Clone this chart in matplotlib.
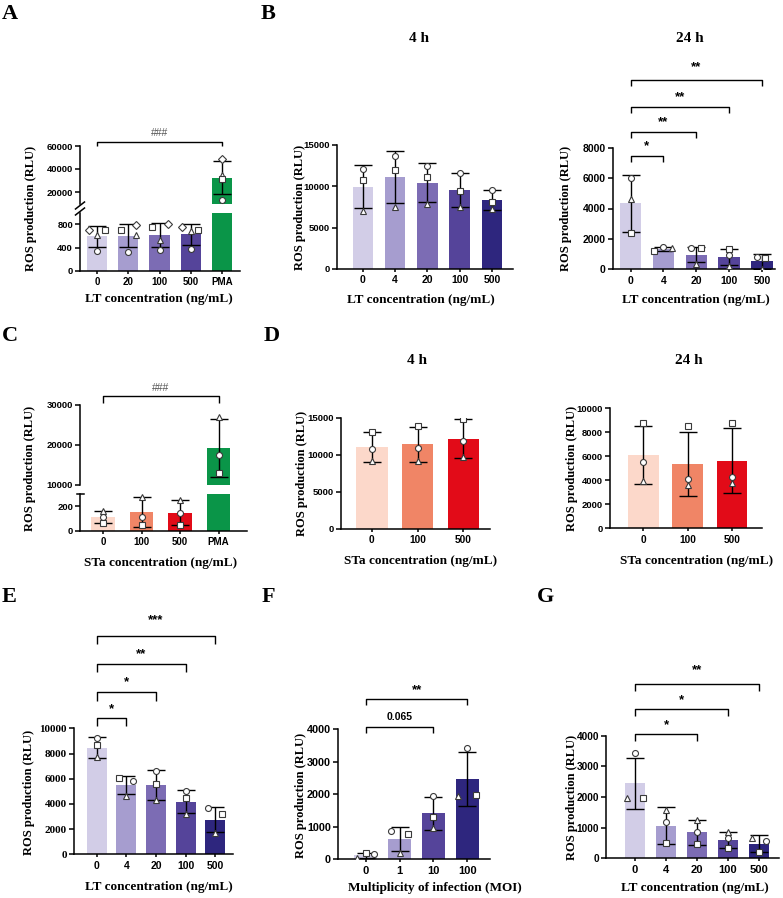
import matplotlib
matplotlib.use('Agg')
import matplotlib.pyplot as plt
from matplotlib.lines import Line2D
import numpy as np

SANS = 'Liberation Sans'
SERIF = 'Liberation Serif'
plt.rcParams['font.family'] = [SANS, 'DejaVu Sans']

W, H = 783, 898
fig = plt.figure(figsize=(W / 100, H / 100), dpi=100)

# ---------------- colours ----------------
PURPLE = ['#D2CDE7', '#A69DCF', '#7C6CB4', '#55449A', '#2E267E']
REDS = ['#FCD8CA', '#F08566', '#E20B18']
GREEN = '#0A9548'

# ---------------- data ----------------
# Panel A (LT, with PMA)
A_cats = ['0', '20', '100', '500', 'PMA']
A_mean = [595, 607, 620, 630, 32500]
A_sd = [175, 192, 210, 180, 14500]
A_circle = [350, 330, 360, 370, 13000]
A_triangle = [620, 620, 540, 680, 35000]
A_square = [710, 700, 760, 710, 31000]
A_diamond = [700, 790, 800, 750, 49000]

# Panel B 4 h
B4_cats = ['0', '4', '20', '100', '500']
B4_mean = [9925, 11045, 10405, 9500, 8300]
B4_sd = [2575, 3145, 2385, 2050, 1200]
B4_circle = [12100, 13650, 12400, 11600, 9550]
B4_square = [10700, 11950, 11100, 9400, 8100]
B4_triangle = [6950, 7500, 7800, 7450, 7200]

# Panel B 24 h
B24_cats = ['0', '4', '20', '100', '500']
B24_mean = [4330, 1320, 955, 810, 530]
B24_sd = [1850, 140, 495, 550, 480]
B24_circle = [6000, 1480, 1380, 950, 780]
B24_triangle = [4600, 1380, 380, 250, 30]
B24_square = [2400, 1220, 1400, 1330, 770]

# Panel C (STa, with PMA)
C_cats = ['0', '100', '500', 'PMA']
C_mean = [111, 150, 147, 19250]
C_sd = [49, 120, 100, 7325]
C_triangle = [160, 270, 248, 27000]
C_circle = [110, 114, 146, 17400]
C_square = [62, 45, 48, 13100]

# Panel D 4 h
D4_cats = ['0', '100', '500']
D4_mean = [11010, 11390, 12195]
D4_sd = [2020, 2400, 2585]
D4_square = [13050, 13850, 14850]
D4_circle = [10800, 10900, 11900]
D4_triangle = [9100, 9100, 9700]

# Panel D 24 h
D24_cats = ['0', '100', '500']
D24_mean = [6110, 5390, 5625]
D24_sd = [2420, 2670, 2710]
D24_square = [8800, 8500, 8750]
D24_circle = [5500, 4080, 4250]
D24_triangle = [3970, 3610, 3800]

# Panel E
E_cats = ['0', '4', '20', '100', '500']
E_mean = [8450, 5490, 5520, 4170, 2740]
E_sd = [820, 730, 1200, 925, 1000]
E_circle = [9200, 5820, 6640, 5050, 3650]
E_square = [8680, 6030, 5600, 4440, 3180]
E_triangle = [7700, 4630, 4310, 3180, 1720]

# Panel F
F_cats = ['0', '1', '10', '100']
F_mean = [120, 615, 1410, 2455]
F_sd = [80, 365, 500, 830]
F_triangle = [30, 200, 950, 1945]
F_square = [200, 790, 1310, 1985]
F_circle = [160, 880, 1955, 3405]

# Panel G
G_cats = ['0', '4', '20', '100', '500']
G_mean = [2450, 1070, 850, 600, 480]
G_sd = [830, 590, 400, 260, 280]
G_triangle = [1960, 1580, 1250, 850, 650]
G_circle = [3420, 1200, 870, 670, 580]
G_square = [1980, 490, 470, 350, 220]


# ---------------- helpers ----------------
def box(l, t, r, b):
    return [l / W, 1 - b / H, (r - l) / W, (b - t) / H]


def fx(x):
    return x / W


def fy(y):
    return 1 - y / H


MEC = '#3a3a3a'


def draw_bars(ax, means, sds, colors, pts, width):
    x = np.arange(len(means))
    ax.bar(x, means, width=width, color=colors, edgecolor='none', zorder=2)
    ax.errorbar(x, means, yerr=sds, fmt='none', ecolor='black', elinewidth=1.0,
                capsize=6.5, capthick=1.0, zorder=3)
    for marker, vals, offs in pts:
        ms = 3.6 if marker == 'D' else 4.3
        ax.plot(x + np.array(offs), vals, marker=marker, ls='none', mfc='white',
                mec=MEC, ms=ms, mew=0.8, zorder=5)


def style(ax, cats, xlim, ylim, yticks, yfs, xfs, yfam=SANS, show_x=True):
    ax.set_facecolor('none')
    for s in ['top', 'right']:
        ax.spines[s].set_visible(False)
    for s in ['left', 'bottom']:
        ax.spines[s].set_linewidth(1.1)
    ax.set_xlim(*xlim)
    ax.set_ylim(*ylim)
    ax.set_yticks(yticks)
    ax.set_yticklabels([str(v) for v in yticks], fontsize=yfs, fontweight='bold', family=yfam)
    ax.tick_params(axis='y', direction='out', length=3.5, width=1.1, pad=1.5)
    if show_x:
        ax.set_xticks(np.arange(len(cats)))
        ax.set_xticklabels(cats, fontsize=xfs, fontweight='bold', family=SANS)
        ax.tick_params(axis='x', direction='out', length=2.5, width=1.1, pad=2)
    else:
        ax.spines['bottom'].set_visible(False)
        ax.set_xticks([])


def bracket(ax, x1, x2, y, yend, ytext, label, fs=9.5, color='black', weight='bold'):
    ax.plot([x1, x1, x2, x2], [yend, y, y, yend], color='black', lw=1.0, clip_on=False,
            solid_capstyle='butt', zorder=6)
    ax.text((x1 + x2) / 2, ytext, label, ha='center', va='center', fontsize=fs,
            fontweight=weight, color=color, clip_on=False, family=SANS)


def ylabel(x, y, fs=9):
    fig.text(fx(x), fy(y), 'ROS production (RLU)', rotation=90, ha='center', va='center',
             family=SERIF, fontweight='bold', fontsize=fs)


def xlabel(x, y, text, fs=9.5):
    fig.text(fx(x), fy(y), text, ha='center', va='center', family=SERIF,
             fontweight='bold', fontsize=fs)


def title(x, y, text, fs=11):
    fig.text(fx(x), fy(y), text, ha='center', va='center', family=SERIF,
             fontweight='bold', fontsize=fs)


def letter(x, y, text):
    fig.text(fx(x), fy(y), text, ha='left', va='top', family=SERIF,
             fontweight='bold', fontsize=16)


# ---------------- Panel A (broken axis) ----------------
A_cols = PURPLE[:4] + [GREEN]
A_pts = [('D', A_diamond, [-0.25, 0.24, 0.26, -0.27, 0]),
         ('^', A_triangle, [0, 0.24, 0, 0, 0]),
         ('s', A_square, [0.25, -0.23, -0.25, 0.24, 0]),
         ('o', A_circle, [0, 0, 0, 0, 0])]
A_xlim = (-0.55, 4.58)
axA_t = fig.add_axes(box(80, 146, 240, 203.5))
axA_b = fig.add_axes(box(80, 212.7, 240, 271))
for ax in (axA_t, axA_b):
    draw_bars(ax, A_mean, A_sd, A_cols, A_pts, 0.65)
style(axA_t, A_cats, A_xlim, (10000, 60000), [20000, 40000, 60000], 6.8, 7, show_x=False)
style(axA_b, A_cats, A_xlim, (0, 1000), [0, 400, 800], 6.8, 7)
bracket(axA_t, 0, 4, 63700, 60300, 71000, '###', fs=7.5, color='#555555', weight='normal')
for yy in (205.5, 211.5):
    fig.add_artist(Line2D([fx(75.5), fx(84.5)], [fy(yy + 3.5), fy(yy - 3.5)], color='black', lw=1.1))
ylabel(31, 208)
xlabel(159, 299, 'LT concentration (ng/mL)')
letter(2, 4, 'A')

# ---------------- Panel B 4 h ----------------
B4_pts = [('o', B4_circle, [0] * 5), ('s', B4_square, [0] * 5), ('^', B4_triangle, [0] * 5)]
axB4 = fig.add_axes(box(337, 144.5, 513, 269))
draw_bars(axB4, B4_mean, B4_sd, PURPLE, B4_pts, 0.64)
style(axB4, B4_cats, (-0.8, 4.65), (0, 15000), [0, 5000, 10000, 15000], 6.8, 7.5)
ylabel(300, 207)
xlabel(421, 300, 'LT concentration (ng/mL)')
title(419, 39, '4 h')
letter(261, 4, 'B')

# ---------------- Panel B 24 h ----------------
B24_pts = [('o', B24_circle, [0, 0, -0.15, 0, -0.15]),
           ('^', B24_triangle, [0, 0.27, 0, 0, 0]),
           ('s', B24_square, [0, -0.3, 0.15, 0, 0.1])]
axB24 = fig.add_axes(box(612.5, 147.7, 775, 269.3))
draw_bars(axB24, B24_mean, B24_sd, PURPLE, B24_pts, 0.65)
style(axB24, B24_cats, (-0.55, 4.4), (0, 8000), [0, 2000, 4000, 6000, 8000], 7.5, 7.5)
bracket(axB24, 0, 1, 7480, 7090, 8100, '*')
bracket(axB24, 0, 2, 9020, 8630, 9650, '**')
bracket(axB24, 0, 3, 10670, 10280, 11300, '**')
bracket(axB24, 0, 4, 12430, 12040, 13300, '**')
ylabel(566, 208)
xlabel(696, 300, 'LT concentration (ng/mL)')
title(690, 39, '24 h')

# ---------------- Panel C (broken axis) ----------------
C_cols = REDS + [GREEN]
C_pts = [('^', C_triangle, [0] * 4), ('o', C_circle, [0] * 4), ('s', C_square, [0] * 4)]
C_xlim = (-0.6, 3.74)
axC_t = fig.add_axes(box(80, 405, 247, 485))
axC_b = fig.add_axes(box(80, 493.5, 247, 531))
for ax in (axC_t, axC_b):
    draw_bars(ax, C_mean, C_sd, C_cols, C_pts, 0.62)
style(axC_t, C_cats, C_xlim, (10000, 30000), [10000, 20000, 30000], 6.8, 7, show_x=False)
style(axC_b, C_cats, C_xlim, (0, 300), [0, 200], 6.8, 7)
fig.add_artist(Line2D([fx(76.5), fx(84)], [fy(493.5), fy(493.5)], color='black', lw=1.1))
bracket(axC_t, 0, 3, 32250, 30600, 34200, '###', fs=7.5, color='#555555', weight='normal')
ylabel(30, 468)
xlabel(161, 563, 'STa concentration (ng/mL)')
letter(2, 326, 'C')

# ---------------- Panel D 4 h ----------------
D4_pts = [('s', D4_square, [0] * 3), ('o', D4_circle, [0] * 3), ('^', D4_triangle, [0] * 3)]
axD4 = fig.add_axes(box(340.5, 417.7, 490, 529))
draw_bars(axD4, D4_mean, D4_sd, REDS, D4_pts, 0.69)
style(axD4, D4_cats, (-0.68, 2.58), (0, 15000), [0, 5000, 10000, 15000], 6.8, 7.3)
ylabel(302, 473)
xlabel(421, 561, 'STa concentration (ng/mL)')
title(417, 360, '4 h')
letter(264, 326, 'D')

# ---------------- Panel D 24 h ----------------
D24_pts = [('s', D24_square, [0] * 3), ('o', D24_circle, [0] * 3), ('^', D24_triangle, [0] * 3)]
axD24 = fig.add_axes(box(610, 408.3, 761.7, 528.3))
draw_bars(axD24, D24_mean, D24_sd, REDS, D24_pts, 0.69)
style(axD24, D24_cats, (-0.75, 2.67), (0, 10000), [0, 2000, 4000, 6000, 8000, 10000], 6.8, 7.3)
ylabel(572, 468)
xlabel(697, 561, 'STa concentration (ng/mL)')
title(689, 361, '24 h')

# ---------------- Panel E ----------------
E_pts = [('o', E_circle, [0, 0.22, 0, 0, -0.23]),
         ('s', E_square, [0, -0.26, 0, 0, 0.23]),
         ('^', E_triangle, [0] * 5)]
axE = fig.add_axes(box(74, 728.3, 233, 854.3))
draw_bars(axE, E_mean, E_sd, PURPLE, E_pts, 0.67)
style(axE, E_cats, (-0.77, 4.6), (0, 10000), [0, 2000, 4000, 6000, 8000, 10000], 8, 7.5, yfam=SERIF)
bracket(axE, 0, 1, 10790, 10210, 11550, '*')
bracket(axE, 0, 2, 12860, 12170, 13650, '*')
bracket(axE, 0, 3, 15080, 14440, 15900, '**')
bracket(axE, 0, 4, 17330, 16690, 18600, '***')
ylabel(29, 792)
xlabel(159, 887, 'LT concentration (ng/mL)')
letter(2, 587, 'E')

# ---------------- Panel F ----------------
F_cols = [PURPLE[0], PURPLE[1], PURPLE[3], PURPLE[4]]
F_pts = [('^', F_triangle, [-0.25, 0, 0, -0.27]),
         ('s', F_square, [0, 0.25, 0, 0.25]),
         ('o', F_circle, [0.25, -0.25, 0, 0])]
axF = fig.add_axes(box(337.7, 729, 490, 859.3))
draw_bars(axF, F_mean, F_sd, F_cols, F_pts, 0.67)
style(axF, F_cats, (-0.83, 3.67), (0, 4000), [0, 1000, 2000, 3000, 4000], 7.8, 8)
bracket(axF, 0, 2, 4050, 3865, 4380, '0.065', fs=7.5)
bracket(axF, 0, 3, 4917, 4733, 5200, '**')
ylabel(301, 795)
xlabel(435, 888, 'Multiplicity of infection (MOI)')
letter(262, 587, 'F')

# ---------------- Panel G ----------------
G_pts = [('^', G_triangle, [-0.25, 0, 0, 0, -0.22]),
         ('o', G_circle, [0, 0, 0, 0, 0.24]),
         ('s', G_square, [0.25, 0, 0, 0, 0])]
axG = fig.add_axes(box(606, 735.7, 779, 858.3))
draw_bars(axG, G_mean, G_sd, PURPLE, G_pts, 0.65)
style(axG, G_cats, (-0.94, 4.65), (0, 4000), [0, 1000, 2000, 3000, 4000], 7.3, 8)
bracket(axG, 0, 2, 4040, 3820, 4340, '*')
bracket(axG, 0, 3, 4860, 4645, 5160, '*')
bracket(axG, 0, 4, 5700, 5450, 6140, '**')
ylabel(572, 797)
xlabel(695, 888, 'LT concentration (ng/mL)')
letter(537, 587, 'G')

fig.savefig('out.png', dpi=100)
